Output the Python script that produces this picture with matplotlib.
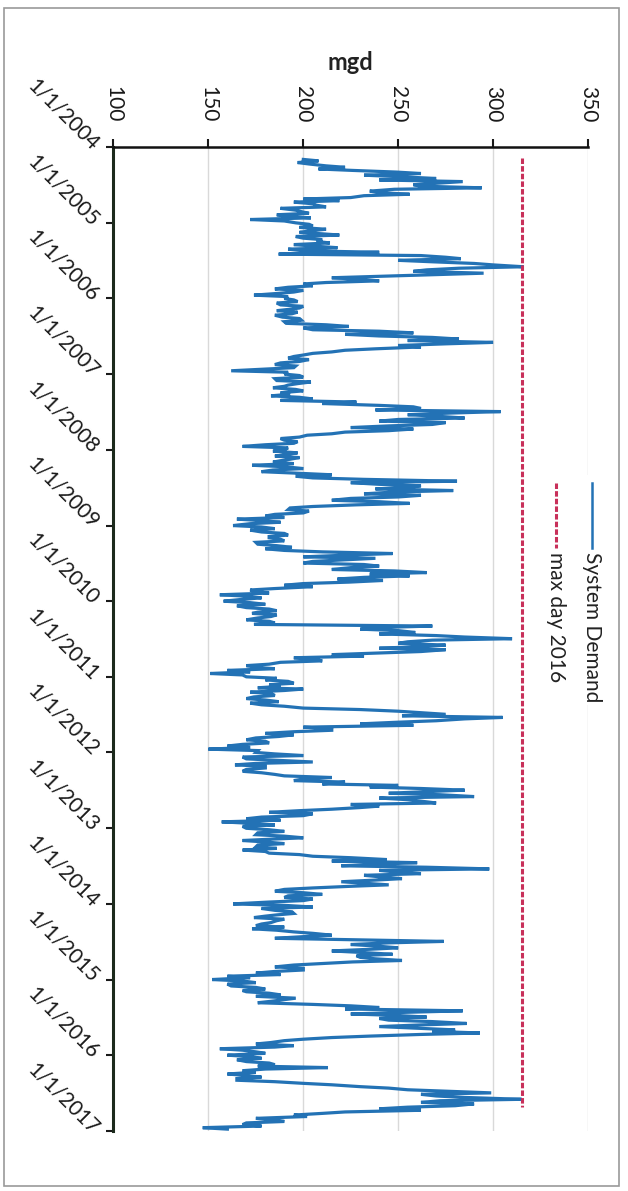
import numpy as np
import pandas as pd
import matplotlib
matplotlib.use('Agg')
import matplotlib.pyplot as plt
from matplotlib.lines import Line2D
from matplotlib.patches import Rectangle

plt.rcParams['font.family'] = ['Lato', 'DejaVu Sans']

# system demand in mgd, read on the 1st and 16th of each month
demand_2004 = [200, 197, 212, 208, 249, 232, 270, 284, 258, 294, 235, 256, 225, 219, 205, 212, 196, 203, 192, 172]  # from Mar 1
demand_2005 = [196, 205, 212, 198, 219, 200, 207, 195, 218, 200, 187, 275, 250, 290, 316, 265, 295, 240, 230, 212, 205, 185, 195, 174]
demand_2006 = [190, 197, 188, 198, 186, 194, 189, 199, 191, 224, 205, 258, 240, 282, 300, 250, 238, 215, 200, 192, 198, 185, 195, 162]
demand_2007 = [190, 200, 186, 197, 190, 196, 188, 183, 205, 228, 240, 262, 304, 255, 285, 240, 268, 225, 245, 215, 198, 190, 195, 168]
demand_2008 = [190, 197, 185, 193, 184, 173, 200, 178, 215, 205, 281, 240, 255, 279, 232, 250, 215, 256, 205, 192, 200, 180, 165, 188]
demand_2009 = [163, 185, 178, 192, 182, 190, 176, 194, 190, 247, 200, 220, 200, 240, 215, 265, 256, 218, 224, 190, 185, 175, 156, 178]
demand_2010 = [158, 180, 170, 186, 173, 183, 170, 185, 268, 230, 259, 270, 310, 255, 275, 240, 262, 215, 195, 210, 182, 175, 160, 151]
demand_2011 = [170, 180, 195, 188, 200, 172, 185, 170, 187, 178, 200, 250, 275, 305, 270, 230, 200, 215, 180, 187, 170, 182, 160, 150]
demand_2012 = [175, 200, 170, 205, 164, 180, 168, 185, 215, 195, 210, 235, 285, 245, 290, 255, 270, 240, 215, 182, 200, 170, 157, 185]
demand_2013 = [170, 190, 175, 200, 168, 190, 175, 168, 182, 205, 244, 260, 220, 298, 250, 232, 252, 220, 245, 205, 185, 210, 190, 200]
demand_2014 = [163, 205, 185, 195, 180, 190, 183, 175, 173, 195, 215, 185, 274, 225, 250, 215, 247, 230, 252, 210, 185, 200, 175, 160]
demand_2015 = [152, 175, 162, 180, 170, 188, 196, 183, 205, 240, 284, 225, 265, 245, 286, 240, 280, 293, 235, 200, 183, 195, 156, 175]
demand_2016 = [160, 178, 170, 185, 213, 168, 160, 178, 165, 200, 230, 255, 299, 270, 315, 262, 280, 240, 222, 195, 175, 190, 168, 147]

# readings on the 8th and 23rd of each month
demand_2004_mid = [208, 203, 222, 226, 262, 250, 240, 272, 262, 248, 240, 232, 200, 195, 207, 188, 199, 186, 204, 190]  # from Mar 8
demand_2005_mid = [203, 198, 204, 210, 196, 210, 214, 205, 192, 240, 262, 283, 268, 300, 282, 258, 270, 215, 240, 200, 192, 200, 186, 192]
demand_2006_mid = [195, 186, 200, 192, 197, 185, 198, 190, 212, 200, 240, 222, 268, 255, 275, 262, 222, 205, 195, 203, 188, 196, 180, 192]
demand_2007_mid = [198, 185, 204, 192, 184, 200, 193, 198, 188, 210, 258, 238, 278, 270, 250, 275, 245, 258, 222, 202, 188, 197, 180, 192]
demand_2008_mid = [184, 192, 198, 188, 195, 190, 184, 196, 196, 232, 225, 262, 238, 248, 262, 225, 240, 228, 193, 203, 185, 190, 178, 172]
demand_2009_mid = [178, 172, 190, 182, 188, 175, 186, 180, 210, 225, 238, 205, 232, 225, 248, 235, 232, 242, 200, 205, 172, 182, 170, 168]
demand_2010_mid = [172, 165, 182, 176, 186, 176, 182, 174, 240, 250, 240, 285, 268, 250, 262, 275, 240, 232, 205, 188, 170, 185, 172, 168]
demand_2011_mid = [186, 192, 182, 176, 190, 183, 174, 180, 172, 190, 230, 262, 252, 285, 250, 258, 215, 195, 195, 175, 180, 168, 172, 176]
demand_2012_mid = [185, 168, 186, 175, 180, 170, 178, 190, 200, 222, 250, 262, 265, 272, 240, 262, 225, 230, 198, 205, 178, 188, 172, 168]
demand_2013_mid = [182, 176, 190, 182, 180, 176, 186, 180, 198, 225, 215, 240, 265, 240, 262, 240, 238, 232, 225, 190, 200, 192, 205, 182]
demand_2014_mid = [190, 178, 194, 186, 174, 186, 178, 190, 186, 205, 200, 228, 245, 238, 235, 230, 228, 238, 226, 195, 200, 185, 188, 172]
demand_2015_mid = [168, 160, 175, 168, 182, 175, 190, 176, 225, 222, 255, 248, 240, 268, 262, 258, 268, 262, 215, 190, 175, 185, 168, 180]
demand_2016_mid = [172, 165, 182, 176, 180, 175, 170, 165, 185, 215, 245, 275, 262, 285, 272, 290, 255, 262, 210, 202, 185, 170, 178, 160]

max_day_2016 = 315
max_day_start = '2004-02-24'
max_day_end = '2016-09-05'

mgd_ticks = [100, 150, 200, 250, 300, 350]
year_ticks = list(range(2004, 2018))

first = [demand_2004, demand_2005, demand_2006, demand_2007, demand_2008, demand_2009, demand_2010,
         demand_2011, demand_2012, demand_2013, demand_2014, demand_2015, demand_2016]
second = [demand_2004_mid, demand_2005_mid, demand_2006_mid, demand_2007_mid, demand_2008_mid,
          demand_2009_mid, demand_2010_mid, demand_2011_mid, demand_2012_mid, demand_2013_mid,
          demand_2014_mid, demand_2015_mid, demand_2016_mid]

rows = []
for year, a, b in zip(range(2004, 2017), first, second):
    for days, vals in (((1, 16), a), ((8, 23), b)):
        slots = [pd.Timestamp(year, m, d) for m in range(1, 13) for d in days]
        slots = slots[len(slots) - len(vals):]
        rows += list(zip(slots, vals))
demand = pd.DataFrame(rows, columns=['date', 'mgd']).sort_values('date')

W, H = 628, 1191
fig = plt.figure(figsize=(W / 100, H / 100), dpi=100)
ax = fig.add_axes([113.5 / W, 1 - 1131 / H, (588 - 113.5) / W, (1131 - 147) / H])

blue = '#2372b5'
red = '#c8305a'

# values run across, time runs down
ax.plot(demand['mgd'], demand['date'], color=blue, lw=2.3, solid_joinstyle='miter', zorder=3)
ax.plot([max_day_2016, max_day_2016], [pd.Timestamp(max_day_start), pd.Timestamp(max_day_end)],
        color=red, lw=2.2, dashes=(1.8, 0.7), zorder=3)

ax.set_xlim(100, 350)
ax.set_ylim(pd.Timestamp('2017-01-01'), pd.Timestamp('2004-01-01'))

ax.set_xticks(mgd_ticks)
ax.set_xticklabels([str(t) for t in mgd_ticks])
ax.xaxis.set_ticks_position('top')
ax.tick_params(axis='x', top=True, bottom=False, labeltop=True, labelbottom=False,
               direction='out', length=6, width=1.5, pad=12, labelsize=15, labelrotation=-90,
               colors='#1a1a1a')

ax.set_yticks([pd.Timestamp(y, 1, 1) for y in year_ticks])
ax.set_yticklabels([f'1/1/{y}' for y in year_ticks])
ax.tick_params(axis='y', direction='out', length=5, width=1.5, pad=8, labelsize=15, colors='#1a1a1a')
for lbl in ax.get_yticklabels():
    lbl.set_rotation(-45)
    lbl.set_rotation_mode('anchor')
    lbl.set_ha('right')
    lbl.set_va('center')

ax.grid(axis='x', color='#d9d9d9', lw=1)
ax.set_axisbelow(True)
for side in ('right', 'bottom'):
    ax.spines[side].set_visible(False)
ax.spines['top'].set_color('#111111')
ax.spines['top'].set_linewidth(1.8)
ax.spines['left'].set_color('#1c2a1c')
ax.spines['left'].set_linewidth(2.2)

fig.text((113.5 + 588) / 2 / W, 1 - 62 / H, 'mgd', ha='center', va='center',
         fontsize=17, fontweight='bold', color='#222222')

# legend, drawn sideways
fig.add_artist(Rectangle((540 / W, 1 - 705 / H), 70 / W, 230 / H, transform=fig.transFigure,
                         facecolor='white', edgecolor='none', zorder=5))
fig.add_artist(Line2D([592 / W, 592 / W], [1 - 483 / H, 1 - 548 / H], transform=fig.transFigure,
                      color=blue, lw=1.8, zorder=6))
fig.text(592 / W, 1 - 552 / H, 'System Demand', rotation=-90, ha='center', va='top',
         fontsize=15, color='#222222', zorder=6)
fig.add_artist(Line2D([556 / W, 556 / W], [1 - 483 / H, 1 - 548 / H], transform=fig.transFigure,
                      color=red, lw=2.2, dashes=(1.8, 0.7), zorder=6))
fig.text(556 / W, 1 - 552 / H, 'max day 2016', rotation=-90, ha='center', va='top',
         fontsize=15, color='#222222', zorder=6)

fig.add_artist(Rectangle((4 / W, 1 - 1186 / H), 615 / W, 1178 / H, transform=fig.transFigure,
                         facecolor='none', edgecolor='#9a9a9a', lw=1.2))

fig.savefig('out.png', dpi=100)
